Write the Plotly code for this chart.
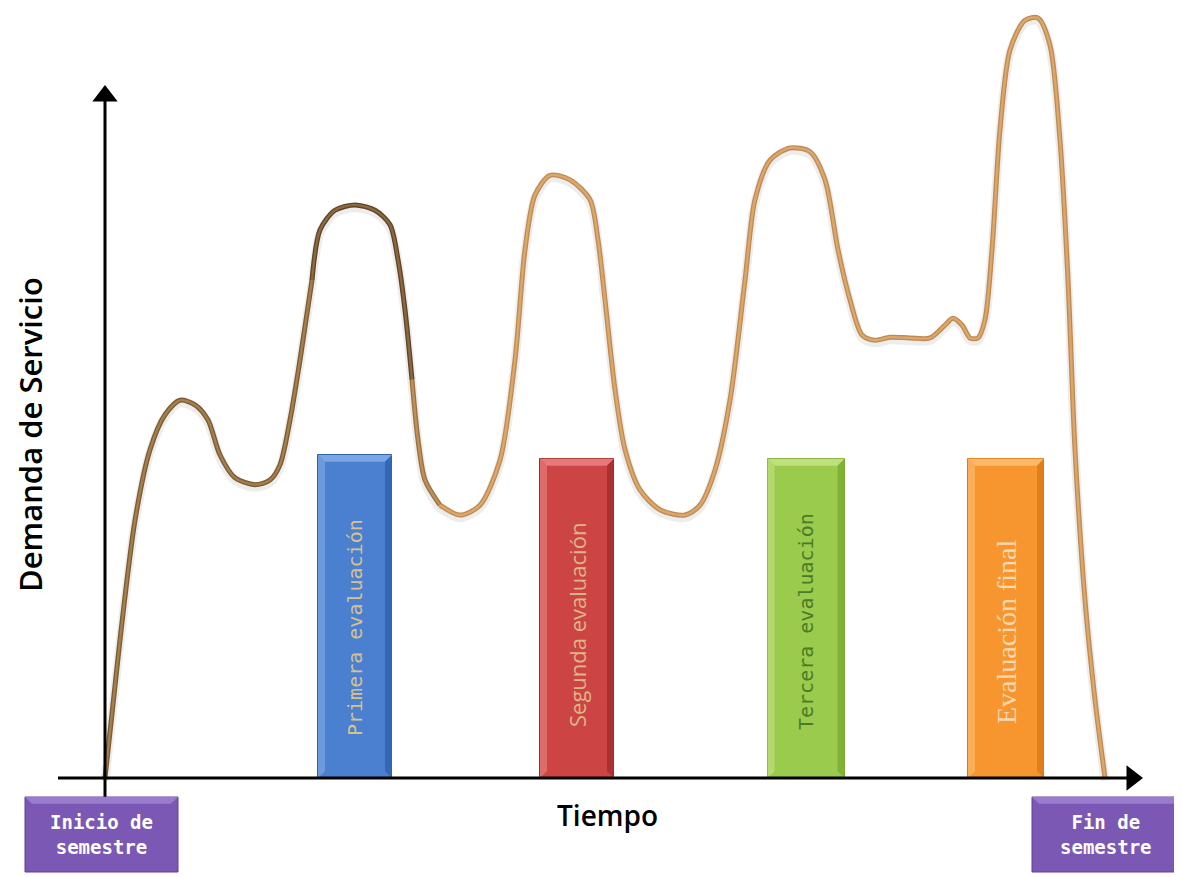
import plotly.graph_objects as go

# ---------------- data ----------------
tiempo = [0, 1.5, 3.0, 4.5, 6.0, 7.5, 9.0, 10.3, 11.5, 13.0, 15.0, 16.5, 17.5, 18.5, 19.5,
          20.7, 21.5, 23.0, 25.0, 27.0, 28.5, 29.3, 30.0, 30.7, 31.3, 32.0, 33.5, 35.5, 37.5,
          39.5, 41.0, 42.0, 43.0, 44.5, 46.5, 48.5, 49.3, 50.0, 51.0, 52.0, 53.5, 55.5, 58.0,
          59.5, 61.0, 62.5, 64.0, 65.0, 66.5, 68.5, 70.5, 72.0, 73.3, 74.5, 75.7, 77.0, 78.5,
          80.5, 82.5, 84.0, 84.8, 85.7, 86.5, 87.3, 88.0, 88.7, 89.5, 90.5, 92.0, 93.3, 94.5,
          95.5, 96.3, 97.0, 98.0, 99.0, 100.0]
demanda = [0, 18.2, 33.9, 43.2, 47.8, 49.7, 49.1, 47.1, 42.5, 39.5, 38.6, 39.2, 41.2, 47.1, 55.0,
           65.5, 72.1, 74.7, 75.4, 74.7, 72.8, 68.2, 61.6, 52.4, 44.5, 39.2, 35.9, 34.6, 35.9,
           41.8, 55.0, 69.5, 76.7, 79.3, 78.7, 76.1, 70.8, 62.9, 51.1, 43.2, 37.9, 35.3, 34.6,
           35.9, 40.5, 49.7, 65.5, 76.1, 81.3, 82.9, 82.4, 78.7, 69.5, 62.9, 58.3, 57.6, 58.0,
           57.9, 57.9, 59.6, 60.5, 59.6, 57.9, 57.9, 60.3, 69.5, 85.3, 95.8, 99.7, 100.0, 96.4,
           83.9, 65.5, 43.2, 23.4, 10.3, 0]

evaluaciones = ["Primera evaluación", "Segunda evaluación", "Tercera evaluación", "Evaluación final"]
eval_tiempo = [25.0, 47.2, 70.1, 90.1]
eval_ancho = [7.4, 7.4, 7.7, 7.6]
eval_altura = [42.5, 42.0, 42.0, 42.0]

x_label = "Tiempo"
y_label = "Demanda de Servicio"
inicio_label = "Inicio de<br>semestre"
fin_label = "Fin de<br>semestre"

# ---------------- styling ----------------
W, H = 1182, 877
OFF = 8            # page body margin
PX_X = 10.0        # pixels per time unit
PX_Y = 7.6         # pixels per demand unit
X0, Y0 = 105, 778  # origin in page pixels


def tx(px):
    return (px - X0) / PX_X


def ty(py):
    return (Y0 - py) / PX_Y


x_range = [tx(OFF), tx(OFF + W)]
y_range = [ty(OFF + H), ty(OFF)]

bar_fill = ["#4a80cf", "#cc4444", "#9acb4c", "#f7962f"]
bar_light = ["#7aa6e3", "#e57a7a", "#bfe07c", "#fbb868"]
bar_dark = ["#2f62ad", "#a52c2c", "#7aaa30", "#d97a16"]
bar_text_color = ["#d6c28e", "#dcb68a", "#4d7a27", "#f9d8ae"]
bar_font = ["DejaVu Sans Mono", "Open Sans", "DejaVu Sans Mono", "Liberation Serif"]
bar_font_size = [20, 22, 20, 28]
bar_text_center_px = [628, 625, 622, 632]

fig = go.Figure()

# bars
fig.add_trace(go.Bar(
    x=eval_tiempo, y=eval_altura, width=eval_ancho, base=0,
    marker=dict(color=bar_fill, line=dict(color=bar_dark, width=1)),
    hoverinfo="skip", showlegend=False,
))

shapes = []
bx = 0.7   # bevel width in time units
by = 0.9   # bevel height in demand units
for xc, w, h, li, dk in zip(eval_tiempo, eval_ancho, eval_altura, bar_light, bar_dark):
    x0, x1 = xc - w / 2, xc + w / 2
    shapes.append(dict(type="path", xref="x", yref="y", layer="above",
                       path=f"M {x0} {h} L {x1} {h} L {x1-bx} {h-by} L {x0+bx} {h-by} Z",
                       fillcolor=li, line=dict(width=0)))
    shapes.append(dict(type="path", xref="x", yref="y", layer="above",
                       path=f"M {x0} 0 L {x0} {h} L {x0+bx} {h-by} L {x0+bx} {by} Z",
                       fillcolor=li, opacity=0.7, line=dict(width=0)))
    shapes.append(dict(type="path", xref="x", yref="y", layer="above",
                       path=f"M {x1} 0 L {x1} {h} L {x1-bx} {h-by} L {x1-bx} {by} Z",
                       fillcolor=dk, opacity=0.8, line=dict(width=0)))

# curve in coloured segments (rope look: dark edge + lighter core)
seg_bounds = [0, 15, 23, 26, len(tiempo) - 1]
edge_cols = ["#7c5c33", "#5f4426", "#9a7245", "#c08b52"]
core_cols = ["#a4804f", "#8a6a40", "#c19057", "#dba86c"]
fig.add_trace(go.Scatter(x=tiempo, y=[d - 0.35 for d in demanda], mode="lines",
                         line=dict(color="rgba(0,0,0,0.07)", width=9, shape="spline", smoothing=0.8),
                         hoverinfo="skip", showlegend=False))
for i in range(len(seg_bounds) - 1):
    a, b = seg_bounds[i], seg_bounds[i + 1] + 1
    fig.add_trace(go.Scatter(x=tiempo[a:b], y=demanda[a:b], mode="lines",
                             line=dict(color=edge_cols[i], width=5, shape="spline", smoothing=0.8),
                             hoverinfo="skip", showlegend=False))
for i in range(len(seg_bounds) - 1):
    a, b = seg_bounds[i], seg_bounds[i + 1] + 1
    fig.add_trace(go.Scatter(x=tiempo[a:b], y=demanda[a:b], mode="lines",
                             line=dict(color=core_cols[i], width=2.3, shape="spline", smoothing=0.8),
                             hoverinfo="skip", showlegend=False))

# axes lines with arrow heads
shapes.append(dict(type="line", xref="x", yref="y", x0=tx(58), y0=0, x1=tx(1135), y1=0,
                   line=dict(color="black", width=3), layer="above"))
shapes.append(dict(type="line", xref="x", yref="y", x0=0, y0=ty(798), x1=0, y1=ty(98),
                   line=dict(color="black", width=3), layer="above"))
fig.add_trace(go.Scatter(x=[tx(1132)], y=[0], mode="markers",
                         marker=dict(symbol="triangle-right", size=22, color="black"),
                         hoverinfo="skip", showlegend=False))
fig.add_trace(go.Scatter(x=[0], y=[ty(96)], mode="markers",
                         marker=dict(symbol="triangle-up", size=22, color="black"),
                         hoverinfo="skip", showlegend=False))

# purple label boxes
purple = "#7b58b3"
purple_light = "#9a7ccc"
purple_dark = "#5e3f93"
boxes = [(tx(25), tx(178), inicio_label), (tx(1032), tx(1180), fin_label)]
by0, by1 = ty(872), ty(797)
annotations = []
for bx0, bx1, lab in boxes:
    shapes.append(dict(type="rect", xref="x", yref="y", x0=bx0, x1=bx1, y0=by0, y1=by1,
                       fillcolor=purple, line=dict(color=purple_dark, width=1), layer="above"))
    shapes.append(dict(type="path", xref="x", yref="y", layer="above",
                       path=f"M {bx0} {by1} L {bx1} {by1} L {bx1-0.7} {by1-0.9} L {bx0+0.7} {by1-0.9} Z",
                       fillcolor=purple_light, line=dict(width=0)))
    annotations.append(dict(x=(bx0 + bx1) / 2, y=(by0 + by1) / 2, xref="x", yref="y",
                            text=f"<b>{lab}</b>", showarrow=False,
                            font=dict(family="DejaVu Sans Mono", size=19, color="white")))

# bar labels
for xc, lab, col, fam, fs, cpx in zip(eval_tiempo, evaluaciones, bar_text_color,
                                      bar_font, bar_font_size, bar_text_center_px):
    annotations.append(dict(x=xc, y=ty(cpx), xref="x", yref="y", text=lab, showarrow=False,
                            textangle=-90, font=dict(family=fam, size=fs, color=col)))

# axis titles
annotations.append(dict(x=tx(607), y=ty(815), xref="x", yref="y",
                        text=x_label, showarrow=False,
                        font=dict(family="Open Sans", size=28, color="black", weight=600)))
annotations.append(dict(x=tx(30), y=ty(435), xref="x", yref="y",
                        text=y_label, showarrow=False, textangle=-90,
                        font=dict(family="Open Sans", size=31, color="black", weight=600)))

fig.update_layout(
    width=W, height=H,
    margin=dict(l=0, r=0, t=0, b=0),
    paper_bgcolor="white", plot_bgcolor="white",
    xaxis=dict(range=x_range, visible=False, fixedrange=True),
    yaxis=dict(range=y_range, visible=False, fixedrange=True),
    shapes=shapes, annotations=annotations,
    showlegend=False, bargap=0,
)

fig.write_html("out.html")
